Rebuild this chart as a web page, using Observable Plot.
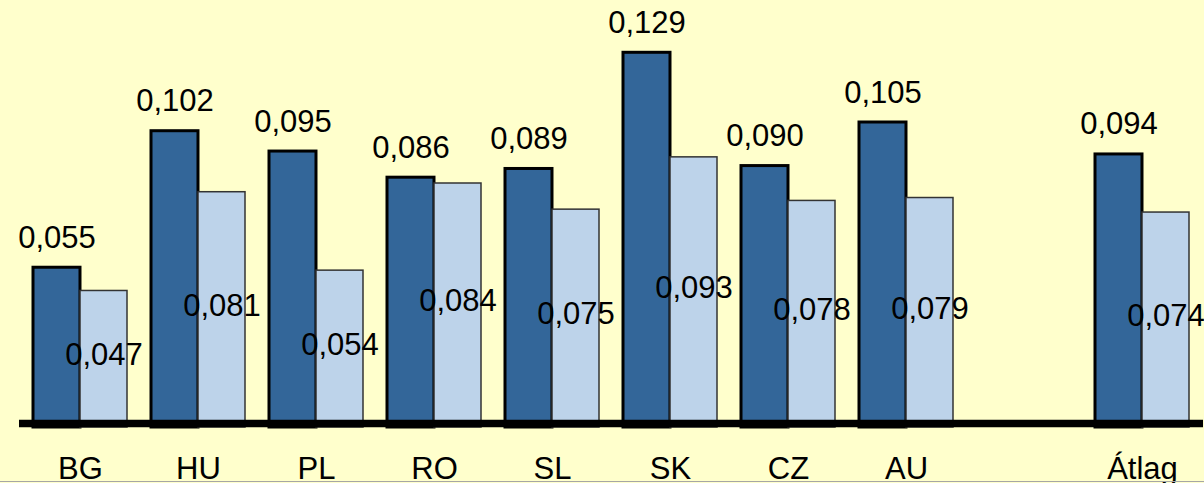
<!DOCTYPE html>
<html>
<head>
<meta charset="utf-8">
<script src="https://cdn.jsdelivr.net/npm/d3@7"></script>
<script src="https://cdn.jsdelivr.net/npm/@observablehq/plot@0.6"></script>
<style>
  html, body { margin: 0; padding: 0; background: #FFFFCC; }
  #chart { position: relative; width: 1204px; height: 483px; overflow: hidden; }
  #chart .edge { position: absolute; left: 0; top: 481px; width: 1204px; height: 1px; background: #a6a6a6; }
</style>
</head>
<body>
<div id="chart"></div>
<script>
// Country codes along the axis; the blank slot separates the average.
const categories = ["BG", "HU", "PL", "RO", "SL", "SK", "CZ", "AU", " ", "Átlag"];
// First series (dark bars, labelled above each bar)
const seriesA = [0.055, 0.102, 0.095, 0.086, 0.089, 0.129, 0.090, 0.105, null, 0.094];
// Second series (light bars, labelled mid-bar)
const seriesB = [0.047, 0.081, 0.054, 0.084, 0.075, 0.093, 0.078, 0.079, null, 0.074];

const rows = categories
  .map((c, i) => ({cat: c, a: seriesA[i], b: seriesB[i]}))
  .filter(d => d.a != null);

const fmt = v => d3.format(".3f")(v).replace(".", ",");

const width = 1204, height = 483;
const marginLeft = 19, marginRight = 1;
const paddingInner = 0.206, paddingOuter = 0.103;
// Width of one band, so each pair of bars can split it in half.
const step = (width - marginLeft - marginRight) / (categories.length - paddingInner + 2 * paddingOuter);
const half = step * (1 - paddingInner) / 2;

const font = "'Liberation Sans', Arial, sans-serif";
const fs = 31;

const chart = Plot.plot({
  width, height,
  marginLeft, marginRight,
  marginTop: 0,
  marginBottom: 56,
  style: {background: "#FFFFCC", fontFamily: font, fontSize: fs + "px", color: "#000", overflow: "visible"},
  x: {domain: categories, paddingInner, paddingOuter, align: 0.5, label: null},
  y: {domain: [0, 0.147], axis: null},
  marks: [
    Plot.barY(rows, {x: "cat", y: "a", insetRight: half, fill: "#336699", stroke: "#000", strokeWidth: 3}),
    Plot.barY(rows, {x: "cat", y: "b", insetLeft: half, fill: "#BDD3EA", stroke: "#333", strokeWidth: 1.5}),
    Plot.ruleY([0], {stroke: "#000", strokeWidth: 7.5, dy: -4}),
    Plot.text(rows, {x: "cat", y: "a", text: d => fmt(d.a), dx: -half / 2, dy: -20, lineAnchor: "bottom", fontSize: fs, fill: "#000"}),
    Plot.text(rows, {x: "cat", y: d => d.b / 2, text: d => fmt(d.b), dx: half / 2, dy: -4, lineAnchor: "middle", fontSize: fs, fill: "#000"}),
    Plot.axisX({tickSize: 0, tickPadding: 29, fontSize: fs, fill: "#000", label: null})
  ]
});

const host = document.getElementById("chart");
host.append(chart);
const edge = document.createElement("div");
edge.className = "edge";
host.append(edge);
</script>
</body>
</html>
